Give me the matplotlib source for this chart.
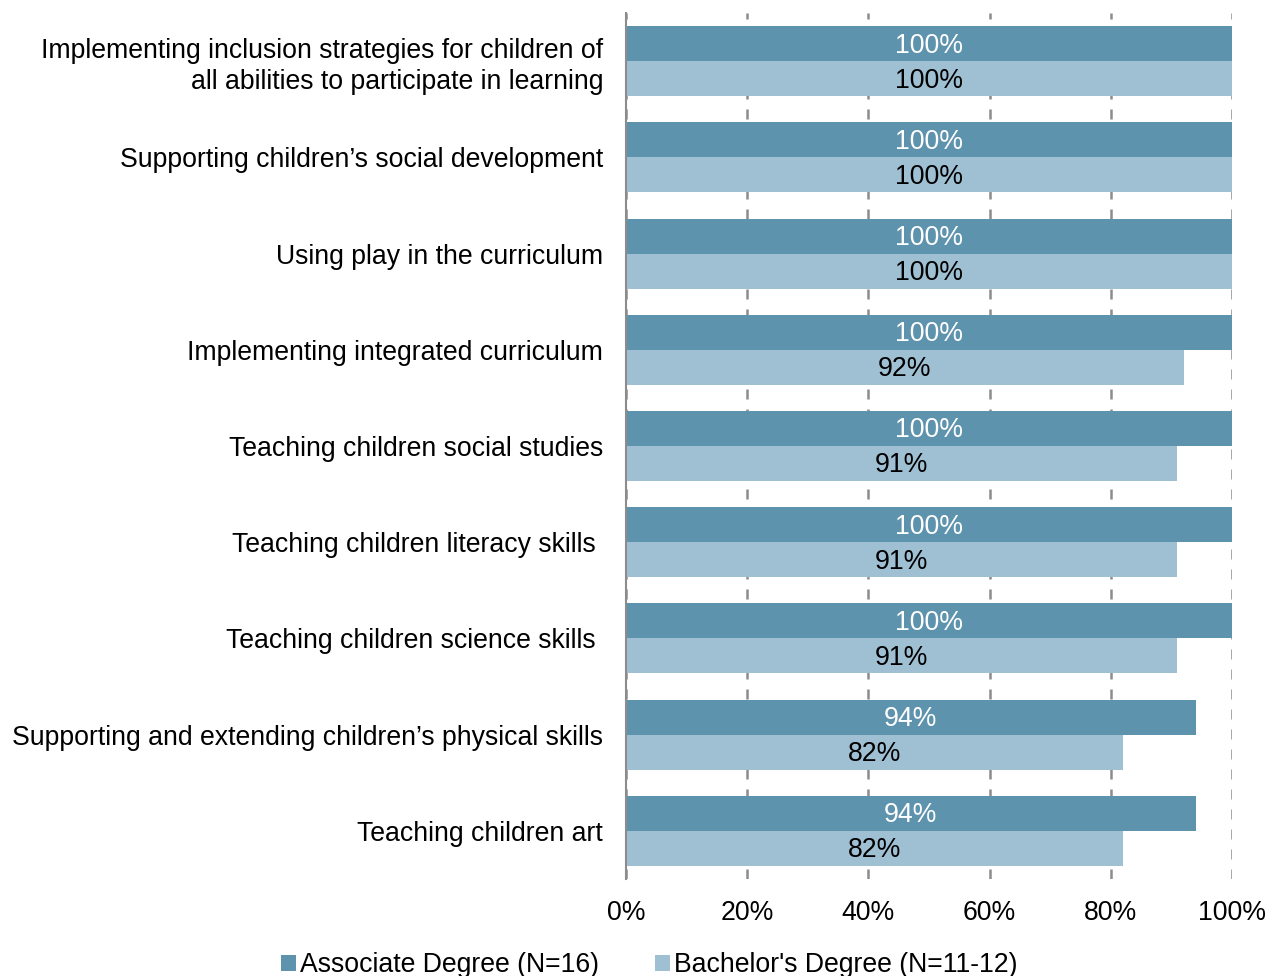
import numpy as np
import matplotlib.pyplot as plt
from matplotlib.ticker import PercentFormatter

plt.rcParams['font.family'] = ['Liberation Sans', 'DejaVu Sans']

categories = [
    'Implementing inclusion strategies for children of\nall abilities to participate in learning',
    'Supporting children\u2019s social development',
    'Using play in the curriculum',
    'Implementing integrated curriculum',
    'Teaching children social studies',
    'Teaching children literacy skills ',
    'Teaching children science skills ',
    'Supporting and extending children\u2019s physical skills',
    'Teaching children art',
]
associate = [100, 100, 100, 100, 100, 100, 100, 94, 94]
bachelor = [100, 100, 100, 92, 91, 91, 91, 82, 82]
series_names = ['Associate Degree (N=16)', "Bachelor's Degree (N=11-12)"]

dark = '#5D93AD'
light = '#9FC0D3'
fs = 19.2

fig = plt.figure(figsize=(12.68, 9.76), dpi=100)
ax = fig.add_axes([0.4937, 0.0994, 0.4779, 0.8873])

y = np.arange(len(categories))
h = 0.364
b1 = ax.barh(y - h / 2, associate, height=h, color=dark, zorder=2, label=series_names[0])
b2 = ax.barh(y + h / 2, bachelor, height=h, color=light, zorder=2, label=series_names[1])

for rect, v in zip(b1, associate):
    ax.text(v / 2, rect.get_y() + rect.get_height() / 2 + 0.02, f'{v}%', ha='center', va='center',
            color='white', fontsize=fs, zorder=3)
for rect, v in zip(b2, bachelor):
    ax.text(v / 2, rect.get_y() + rect.get_height() / 2 + 0.02, f'{v}%', ha='center', va='center',
            color='black', fontsize=fs, zorder=3)

ax.set_ylim(len(categories) - 0.5, -0.5)
ax.set_xlim(0, 100)
ax.set_yticks(y)
ax.set_yticklabels(categories, fontsize=fs, linespacing=1.27)
ax.set_xticks([0, 20, 40, 60, 80, 100])
ax.xaxis.set_major_formatter(PercentFormatter(decimals=0))
ax.tick_params(axis='x', length=0, pad=15, labelsize=fs)
ax.tick_params(axis='y', length=0, pad=16.5)
ax.xaxis.grid(True, color='#8c8c8c', linestyle=(0, (4, 4)), linewidth=1.8, zorder=1)

# nudge the two-line label up a little so it sits centred on its bar pair
first = ax.get_yticklabels()[0]
first.set_y(-0.04)

for s in ['top', 'right', 'bottom']:
    ax.spines[s].set_visible(False)
ax.spines['left'].set_color('#8c8c8c')
ax.spines['left'].set_linewidth(1.5)
ax.spines['left'].set_zorder(4)

fig.legend(handles=[b1, b2], loc='center', bbox_to_anchor=(0.512, 0.011), ncol=2, frameon=False,
           fontsize=fs, handlelength=0.55, handleheight=0.55, handletextpad=0.15,
           columnspacing=2.1)

fig.savefig('out.png', dpi=100)
